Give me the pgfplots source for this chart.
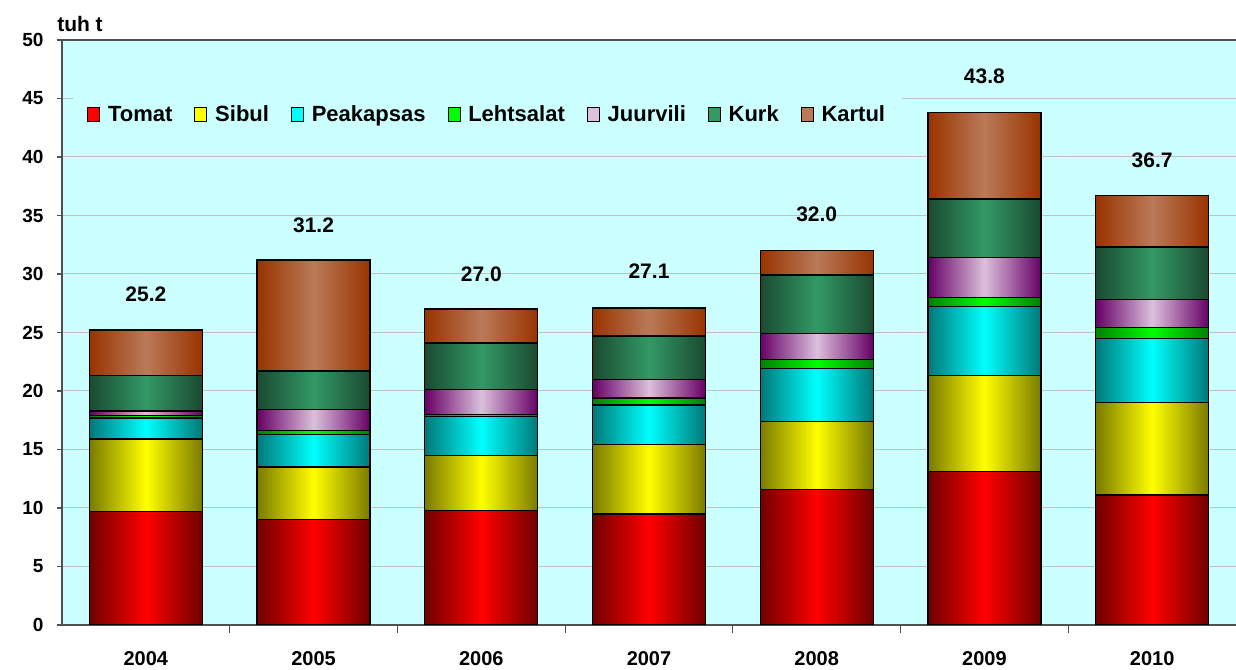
\documentclass[border=0pt]{standalone}
\usepackage{pgfplots}
\pgfplotsset{compat=1.18}
\usepackage{pgfplotstable}
\usepackage{fontspec}
\setmainfont{Liberation Sans}
\definecolor{bgc}{HTML}{CCFFFF}
\definecolor{gridc}{HTML}{C0C0C0}
\definecolor{axc}{HTML}{505050}
\definecolor{redD}{HTML}{700000}
\definecolor{redM}{HTML}{FF0000}
\definecolor{yelD}{HTML}{7A7A00}
\definecolor{yelM}{HTML}{FFFF00}
\definecolor{cyaD}{HTML}{007878}
\definecolor{cyaM}{HTML}{00FFFF}
\definecolor{grnD}{HTML}{008000}
\definecolor{grnM}{HTML}{00FF00}
\definecolor{purD}{HTML}{660066}
\definecolor{purM}{HTML}{DCC0DC}
\definecolor{kurD}{HTML}{1A4A30}
\definecolor{kurM}{HTML}{339966}
\definecolor{karD}{HTML}{993300}
\definecolor{karM}{HTML}{BA7A58}
\pgfplotstableread{
x tomat sibul peak leht juur kurk kart
0 9.7 6.2 1.8 0.2 0.4 3.0 3.9
1 9.0 4.5 2.8 0.3 1.8 3.3 9.5
2 9.8 4.7 3.3 0.2 2.1 4.0 2.9
3 9.5 5.9 3.4 0.6 1.6 3.7 2.4
4 11.6 5.8 4.5 0.8 2.2 5.0 2.1
5 13.1 8.2 5.9 0.8 3.4 5.0 7.4
6 11.1 7.9 5.5 0.9 2.4 4.5 4.4
}\datatable
\pgfplotstableread{
x y lab
0 28.25 25.2
1 34.2 31.2
2 30.0 27.0
3 30.2 27.1
4 35.1 32.0
5 46.9 43.8
6 39.7 36.7
}\labtable
\pgfplotsset{
  base/.style={at={(0pt,0pt)}, anchor=south west,
    scale only axis, width=882pt, height=438.75pt,
    xmin=-0.5, xmax=6.512, ymin=0, ymax=50},
  sqleg/.style={legend image code/.code={\draw[##1,draw=black,line width=0.75pt] (0pt,-5.25pt) rectangle (9pt,5.25pt); \path (13pt,0pt);}},
  barst/.style 2 args={fill=#2, left color=#1, right color=#1, middle color=#2, draw=black, line width=1pt},
}
\begin{document}
\begin{tikzpicture}
\useasboundingbox (-46.5pt,-33.75pt) rectangle (880.5pt,468.75pt);
\begin{axis}[base, clip=false,
  axis background/.style={fill=bgc},
  ytick={0,5,...,50},
  ymajorgrids, grid style={draw=gridc, line width=0.75pt},
  xtick={0,1,2,3,4,5,6},
  xticklabels={2004,2005,2006,2007,2008,2009,2010},
  every major x tick/.style={draw=none},
  minor xtick={0.5,1.5,2.5,3.5,4.5,5.5},
  xtick pos=left, ytick pos=left,
  tick align=outside,
  major tick length=4pt, minor tick length=6pt,
  tick style={draw=axc, line width=0.9pt},
  axis line style={draw=axc, line width=1.2pt},
  /pgf/number format/assume math mode=true,
  yticklabel style={inner sep=0pt, xshift=-9.75pt, font=\bfseries\fontsize{14.25pt}{14.25pt}\selectfont},
  xticklabel style={inner sep=0pt, yshift=-16pt, font=\bfseries\fontsize{15pt}{15pt}\selectfont},
  legend columns=-1,
  legend style={at={(0.0094,0.872)}, anchor=west, draw=none, fill=bgc,
    inner xsep=10.5pt, inner ysep=10pt,
    font=\bfseries\fontsize{16.5pt}{16.5pt}\selectfont,
    /tikz/every even column/.append style={column sep=14.5pt}},
  legend cell align=left,
]
\addlegendimage{sqleg, fill=redM}
\addlegendimage{sqleg, fill=yelM}
\addlegendimage{sqleg, fill=cyaM}
\addlegendimage{sqleg, fill=grnM}
\addlegendimage{sqleg, fill=purM}
\addlegendimage{sqleg, fill=kurM}
\addlegendimage{sqleg, fill=karM}
\legend{Tomat,Sibul,Peakapsas,Lehtsalat,Juurvili,Kurk,Kartul}
\node[anchor=base west, inner sep=0pt, font=\bfseries\fontsize{15.75pt}{15.75pt}\selectfont] at ([xshift=-3.75pt,yshift=6pt]rel axis cs:0,1) {tuh t};
\end{axis}
\foreach \k in {0,...,6}{
\pgfmathsetmacro\lo{\k-0.25}
\pgfmathsetmacro\hi{\k+0.25}
\begin{axis}[base, hide axis, ybar stacked, bar width=84.75pt,
  restrict x to domain=\lo:\hi]
\addplot[barst={redD}{redM}] table[x=x,y=tomat]{\datatable};
\addplot[barst={yelD}{yelM}] table[x=x,y=sibul]{\datatable};
\addplot[barst={cyaD}{cyaM}] table[x=x,y=peak]{\datatable};
\addplot[barst={grnD}{grnM}] table[x=x,y=leht]{\datatable};
\addplot[barst={purD}{purM}] table[x=x,y=juur]{\datatable};
\addplot[barst={kurD}{kurM}] table[x=x,y=kurk]{\datatable};
\addplot[barst={karD}{karM}] table[x=x,y=kart]{\datatable};
\end{axis}
}
\begin{axis}[base, hide axis]
\addplot[draw=none, mark=none, nodes near coords, point meta=explicit symbolic,
  nodes near coords style={anchor=center, inner sep=0pt, font=\bfseries\fontsize{15.75pt}{15.75pt}\selectfont}]
  table[x=x,y=y,meta=lab]{\labtable};
\end{axis}
\end{tikzpicture}
\end{document}
